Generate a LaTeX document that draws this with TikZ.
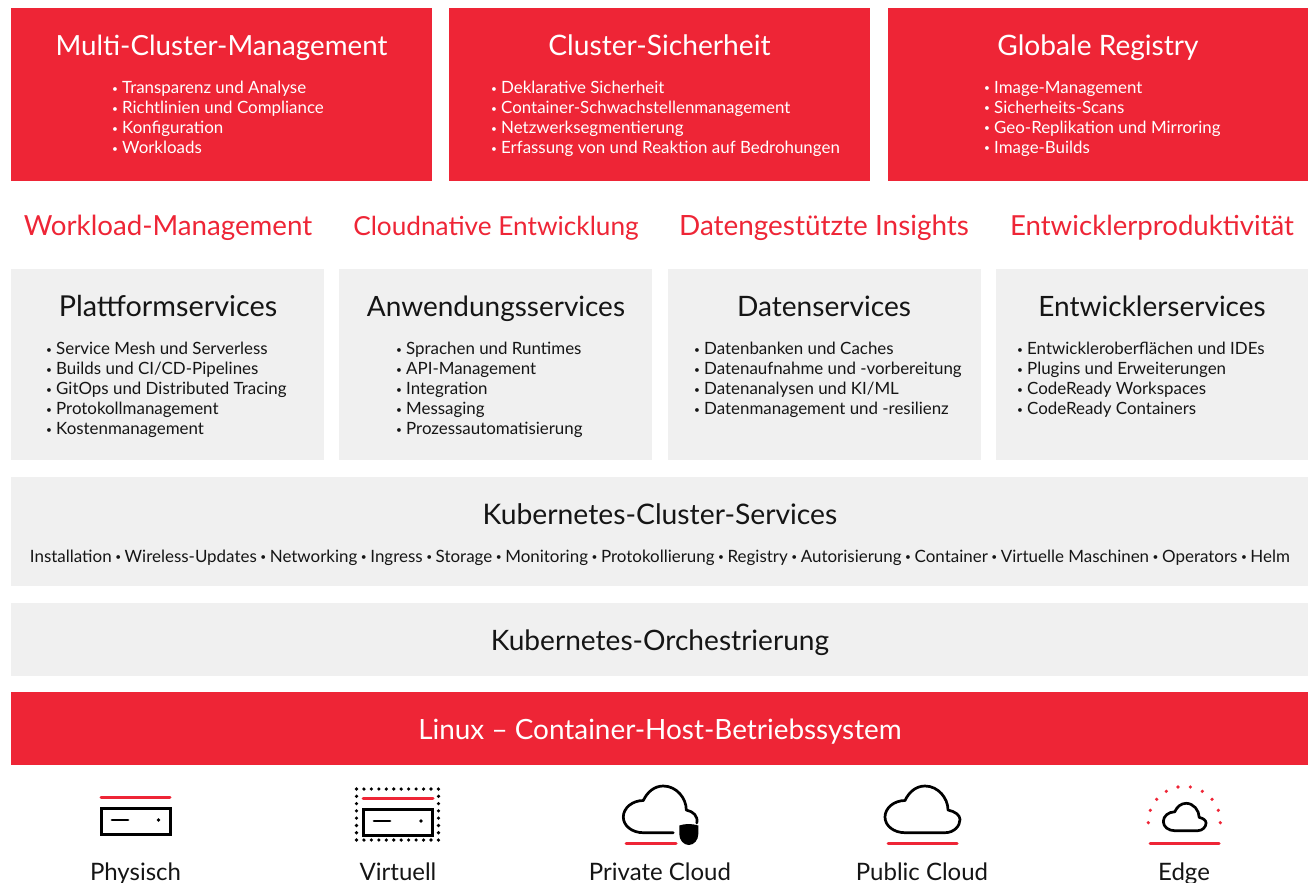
\documentclass[tikz,border=0pt]{standalone}
\usepackage{fontspec}
\setmainfont{Lato}
\definecolor{rhred}{HTML}{EE2536}
\definecolor{rhgrey}{HTML}{F0F0F0}
\definecolor{rhink}{HTML}{151515}
\newcommand{\bl}[1]{\makebox[10pt][l]{\raisebox{0.08em}{\scalebox{0.6}{\textbullet}}}#1}
\newcommand{\sepdot}{\makebox[13pt][c]{\raisebox{0.08em}{\scalebox{0.6}{\textbullet}}}}
\newcommand{\sz}[1]{\fontsize{#1}{30}\selectfont}
\newcommand{\cloudopen}{(50,46.7) -- (20,46.7) .. controls (9,46.7) and (0,40) .. (0,31) .. controls (0,22) and (9,14.5) .. (20,14.5) .. controls (24,6) and (31,0) .. (40,0) .. controls (53,0) and (63,12) .. (63,24) .. controls (70,25.5) and (75,30) .. (73.5,37)}
\newcommand{\cloudshut}{(20,46.7) .. controls (9,46.7) and (0,40) .. (0,31) .. controls (0,22) and (9,14.5) .. (20,14.5) .. controls (24,6) and (31,0) .. (40,0) .. controls (53,0) and (63,12) .. (63,24) .. controls (70,25.5) and (75,29) .. (75,33.5) .. controls (75,40) and (69,46.7) .. (60,46.7) -- cycle}
\tikzset{
  x=1pt,y=-1pt,
  block/.style={rectangle,draw=none,inner sep=0pt,anchor=north west},
  redblock/.style={block,fill=rhred},
  greyblock/.style={block,fill=rhgrey},
  title/.style={inner sep=0pt,anchor=base,text=rhink},
  redtitle/.style={title,text=white},
  headline/.style={title,text=rhred},
  itemlist/.style={inner sep=0pt,anchor=north west,align=left,font=\fontsize{16.9}{20}\selectfont,text=rhink},
  reditemlist/.style={itemlist,text=white},
  icon/.style={line width=2.7pt,draw=black,line cap=round,line join=round},
  boxicon/.style={line width=3pt,draw=black,line cap=butt,line join=miter},
  accent/.style={line width=3pt,draw=rhred,line cap=round},
  caption/.style={inner sep=0pt,anchor=base,font=\fontsize{24}{26}\selectfont,text=rhink},
}
\begin{document}
\begin{tikzpicture}
\useasboundingbox (0,0) rectangle (1309,883);
% red top row
\node[redblock,minimum width=421pt,minimum height=173pt] (r1) at (11,8) {};
\node[redblock,minimum width=421pt,minimum height=173pt] (r2) at (449,8) {};
\node[redblock,minimum width=420pt,minimum height=173pt] (r3) at (888,8) {};
\node[redtitle,font=\sz{27.75}] (r1t) at (221.5,55.5) {Multi-Cluster-Management};
\node[redtitle,font=\sz{28.2}] (r2t) at (659.5,55.5) {Cluster-Sicherheit};
\node[redtitle,font=\sz{28.1}] (r3t) at (1098,55.5) {Globale Registry};
\node[reditemlist] (r1l) at (112,81) {\bl{Transparenz und Analyse}\\\bl{Richtlinien und Compliance}\\\bl{Konfiguration}\\\bl{Workloads}};
\node[reditemlist] (r2l) at (491,81) {\bl{Deklarative Sicherheit}\\\bl{Container-Schwachstellenmanagement}\\\bl{Netzwerksegmentierung}\\\bl{Erfassung von und Reaktion auf Bedrohungen}};
\node[reditemlist] (r3l) at (984,81) {\bl{Image-Management}\\\bl{Sicherheits-Scans}\\\bl{Geo-Replikation und Mirroring}\\\bl{Image-Builds}};
% headlines
\node[headline,font=\sz{27.7}] (h1) at (168,235.5) {Workload-Management};
\node[headline,font=\sz{26.2}] (h2) at (496,235.5) {Cloudnative Entwicklung};
\node[headline,font=\sz{27.9}] (h3) at (824,235.5) {Datengestützte Insights};
\node[headline,font=\sz{27.6}] (h4) at (1152,235.5) {Entwicklerproduktivität};
% grey row
\node[greyblock,minimum width=313pt,minimum height=191pt] (g1) at (11,269) {};
\node[greyblock,minimum width=313pt,minimum height=191pt] (g2) at (339,269) {};
\node[greyblock,minimum width=313pt,minimum height=191pt] (g3) at (668,269) {};
\node[greyblock,minimum width=312pt,minimum height=191pt] (g4) at (996,269) {};
\node[title,font=\sz{28.8}] (g1t) at (168,316) {Plattformservices};
\node[title,font=\sz{27.95}] (g2t) at (496,316) {Anwendungsservices};
\node[title,font=\sz{28.1}] (g3t) at (824,316) {Datenservices};
\node[title,font=\sz{28}] (g4t) at (1152,316) {Entwicklerservices};
\node[itemlist] (g1l) at (46,342) {\bl{Service Mesh und Serverless}\\\bl{Builds und CI/CD-Pipelines}\\\bl{GitOps und Distributed Tracing}\\\bl{Protokollmanagement}\\\bl{Kostenmanagement}};
\node[itemlist] (g2l) at (396,342) {\bl{Sprachen und Runtimes}\\\bl{API-Management}\\\bl{Integration}\\\bl{Messaging}\\\bl{Prozessautomatisierung}};
\node[itemlist] (g3l) at (694,342) {\bl{Datenbanken und Caches}\\\bl{Datenaufnahme und -vorbereitung}\\\bl{Datenanalysen und KI/ML}\\\bl{Datenmanagement und -resilienz}};
\node[itemlist] (g4l) at (1017,342) {\bl{Entwickleroberflächen und IDEs}\\\bl{Plugins und Erweiterungen}\\\bl{CodeReady Workspaces}\\\bl{CodeReady Containers}};
% full-width bands
\node[greyblock,minimum width=1297pt,minimum height=109pt] (kcs) at (11,477) {};
\node[title,font=\sz{28.3}] (kcst) at (660,524) {Kubernetes-Cluster-Services};
\node[title,font=\sz{16.95}] (kcsl) at (660,562) {Installation\sepdot Wireless-Updates\sepdot Networking\sepdot Ingress\sepdot Storage\sepdot Monitoring\sepdot Protokollierung\sepdot Registry\sepdot Autorisierung\sepdot Container\sepdot Virtuelle Maschinen\sepdot Operators\sepdot Helm};
\node[greyblock,minimum width=1297pt,minimum height=73pt] (orch) at (11,603) {};
\node[title,font=\sz{28.1}] (orcht) at (660,650) {Kubernetes-Orchestrierung};
\node[redblock,minimum width=1297pt,minimum height=73pt] (linux) at (11,692) {};
\node[redtitle,font=\sz{27.9}] (linuxt) at (660,739) {Linux – Container-Host-Betriebssystem};
% Physisch
\draw[accent] (101,797) -- (170,797);
\draw[boxicon] (101.5,808) rectangle (170,834);
\draw[icon] (112,820) -- (128,820);
\fill[black] (158.5,820) circle (1.9pt);
\node[caption] (c1) at (135.5,880) {Physisch};
% Virtuell
\foreach \i in {0,...,11} {
  \fill[black] (356.5+7.45*\i,789) circle (1.8pt);
  \fill[black] (356.5+7.45*\i,840) circle (1.8pt);
}
\foreach \i in {1,...,6} {
  \fill[black] (356.5,789+7.29*\i) circle (1.8pt);
  \fill[black] (438.5,789+7.29*\i) circle (1.8pt);
}
\draw[accent] (363,798) -- (433,798);
\draw[boxicon] (363.5,809) rectangle (432.5,835);
\draw[icon] (374,821) -- (390,821);
\fill[black] (421,821) circle (1.9pt);
\node[caption] (c2) at (398,880) {Virtuell};
% Private Cloud
\begin{scope}[shift={(623.3,786)}]
\draw[icon] \cloudopen;
\end{scope}
\fill[black] (679.3,825.5) .. controls (685,823.5) and (692,823.5) .. (698.3,825.5) -- (698.3,834) .. controls (698.3,840) and (694,845) .. (688.8,845) .. controls (683.5,845) and (679.3,840) .. (679.3,834) -- cycle;
\draw[accent] (626,843.3) -- (676,843.3);
\node[caption] (c3) at (660,880) {Private Cloud};
% Public Cloud
\begin{scope}[shift={(885,786)}]
\draw[icon] \cloudshut;
\end{scope}
\draw[accent] (888,843.3) -- (957,843.3);
\node[caption] (c4) at (922,880) {Public Cloud};
% Edge
\begin{scope}[shift={(1163.3,803.3)},x=0.57pt,y=-0.587pt]
\draw[icon] \cloudshut;
\end{scope}
\foreach \px/\py in {148.3/822.7,150.3/810.3,156.7/799.3,166.3/791.3,178/787,190.3/787,202.3/791.3,212/799.3,218.3/810.3,220.3/822.7} {
  \fill[rhred] (1000+\px,\py) circle (1.8pt);
}
\draw[accent] (1150,843.3) -- (1219,843.3);
\node[caption] (c5) at (1184,880) {Edge};
\end{tikzpicture}
\end{document}
